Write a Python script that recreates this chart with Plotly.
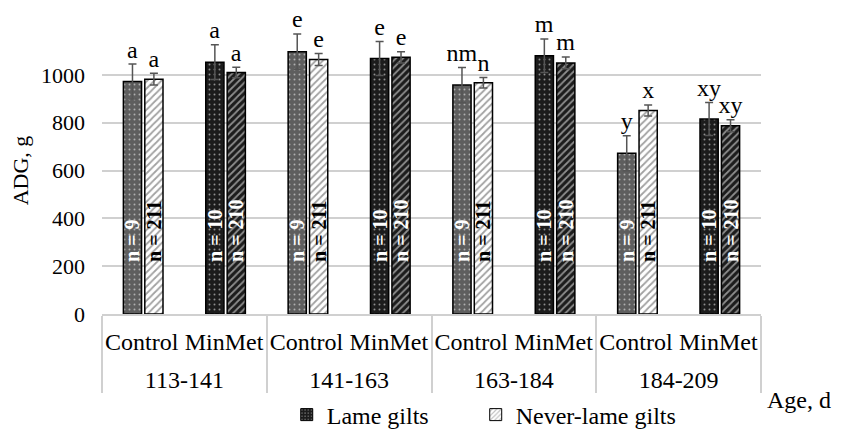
import plotly.graph_objects as go

periods = ["113-141", "141-163", "163-184", "184-209"]
treatments = ["Control", "MinMet"]

lame_adg = [972, 1053, 1097, 1068, 957, 1080, 672, 815]
lame_se = [73, 73, 74, 71, 74, 70, 73, 69]
never_adg = [982, 1010, 1064, 1073, 967, 1050, 851, 787]
never_se = [25, 22, 25, 23, 22, 25, 23, 25]
lame_letters = ["a", "a", "e", "e", "nm", "m", "y", "xy"]
never_letters = ["a", "a", "e", "e", "n", "m", "x", "xy"]
lame_n = ["n = 9", "n = 10"] * 4
never_n = ["n = 211", "n = 210"] * 4
y_ticks = [0, 200, 400, 600, 800, 1000]

LABEL_BASE = 205
LETTER_PAD = -6
FONT = "Liberation Serif, Times New Roman, serif"

# a tall hair-space makes the treatment row slightly taller, pushing the period row down as in the reference
spacer = "<span style='font-size:37px'>\u200a</span>"
x = [[p for p in periods for t in treatments], [t + spacer for p in periods for t in treatments]]
is_control = [t == "Control" for p in periods for t in treatments]

lame_bg = ["#5e5e5e" if c else "#1c1c1c" for c in is_control]
lame_fg = ["#ffffff"] * 8
never_bg = ["#ffffff" if c else "#1c1c1c" for c in is_control]
never_fg = ["#7a7a7a" if c else "#ffffff" for c in is_control]
lame_txt = ["#ffffff"] * 8
never_txt = ["#000000" if c else "#ffffff" for c in is_control]

err_style = dict(type="data", visible=True, color="#555555", thickness=1.5, width=4)

fig = go.Figure()

fig.add_trace(go.Bar(
    x=x, y=lame_adg, offsetgroup="L", name="Lame gilts", showlegend=False,
    marker=dict(color=lame_bg, line=dict(color="#000000", width=1.5),
                pattern=dict(shape=".", bgcolor=lame_bg, fgcolor=lame_fg, size=5, solidity=0.12, fillmode="overlay")),
    error_y=dict(array=lame_se, **err_style),
))
fig.add_trace(go.Bar(
    x=x, y=never_adg, offsetgroup="N", name="Never-lame gilts", showlegend=False,
    marker=dict(color=never_bg, line=dict(color="#000000", width=1.5),
                pattern=dict(shape="/", bgcolor=never_bg, fgcolor=never_fg, size=5, solidity=0.35, fillmode="overlay")),
    error_y=dict(array=never_se, **err_style),
))

# n labels (rotated, inside)
for vals, labels, cols, grp in [(lame_adg, lame_n, lame_txt, "L"), (never_adg, never_n, never_txt, "N")]:
    fig.add_trace(go.Bar(
        x=x, y=[v - LABEL_BASE for v in vals], base=LABEL_BASE, offsetgroup=grp, showlegend=False,
        marker=dict(color="rgba(0,0,0,0)", line=dict(width=0)),
        text=labels, textposition="inside", insidetextanchor="start", textangle=-90,
        constraintext="none",
        textfont=dict(family=FONT, size=20, color=cols, weight="bold"),
        hoverinfo="skip",
    ))

# significance letters (above error bars)
for vals, errs, letters, grp in [(lame_adg, lame_se, lame_letters, "L"), (never_adg, never_se, never_letters, "N")]:
    fig.add_trace(go.Bar(
        x=x, y=[v + e + LETTER_PAD for v, e in zip(vals, errs)], offsetgroup=grp, showlegend=False,
        marker=dict(color="rgba(0,0,0,0)", line=dict(width=0)),
        text=letters, textposition="outside", textangle=0, constraintext="none",
        cliponaxis=False,
        textfont=dict(family=FONT, size=24, color="#000000"),
        hoverinfo="skip",
    ))

# legend entries
fig.add_trace(go.Bar(
    x=[[x[0][0]], [x[1][0]]], y=[None], offsetgroup="L", name="Lame gilts" + "\u00a0" * 7,
    marker=dict(color="#1c1c1c", line=dict(color="#000000", width=1),
                pattern=dict(shape=".", bgcolor="#1c1c1c", fgcolor="#ffffff", size=4, solidity=0.15)),
))
fig.add_trace(go.Bar(
    x=[[x[0][0]], [x[1][0]]], y=[None], offsetgroup="N", name="Never-lame gilts",
    marker=dict(color="#ffffff", line=dict(color="#000000", width=1),
                pattern=dict(shape="/", bgcolor="#ffffff", fgcolor="#7a7a7a", size=4, solidity=0.35)),
))

# page body adds an 8px offset, so the figure is sized to fill the window exactly
fig.update_layout(
    width=836, height=422,
    margin=dict(l=94, r=83, t=19, b=116, autoexpand=False),
    barmode="group", bargap=0.48, bargroupgap=0.15,
    plot_bgcolor="#ffffff", paper_bgcolor="#ffffff",
    font=dict(family=FONT, size=22, color="#000000"),
    showlegend=True,
    legend=dict(orientation="h", x=0.58, xanchor="center", y=-0.352, yanchor="middle",
                font=dict(family=FONT, size=24), itemwidth=30, traceorder="normal"),
    annotations=[dict(text="Age, d", xref="paper", yref="paper", x=1.11, y=-0.30,
                      xanchor="right", yanchor="middle", showarrow=False,
                      font=dict(family=FONT, size=24))],
)
fig.update_xaxes(
    type="multicategory", showline=True, linecolor="#d0d0d0", linewidth=1.5,
    showdividers=True, dividercolor="#d0d0d0", dividerwidth=1.5,
    tickfont=dict(family=FONT, size=24), ticks="", ticklabelstandoff=5,
    tickangle=0, automargin=False,
)
fig.update_yaxes(
    range=[0, 1200], tickvals=y_ticks, showgrid=True, gridcolor="#d0d0d0", gridwidth=1.5,
    zeroline=False, showline=False, ticks="", ticklabelstandoff=16,
    tickfont=dict(family=FONT, size=22), automargin=False,
    title=dict(text="ADG, g", font=dict(family=FONT, size=22), standoff=8),
)

fig.write_html("out.html")
